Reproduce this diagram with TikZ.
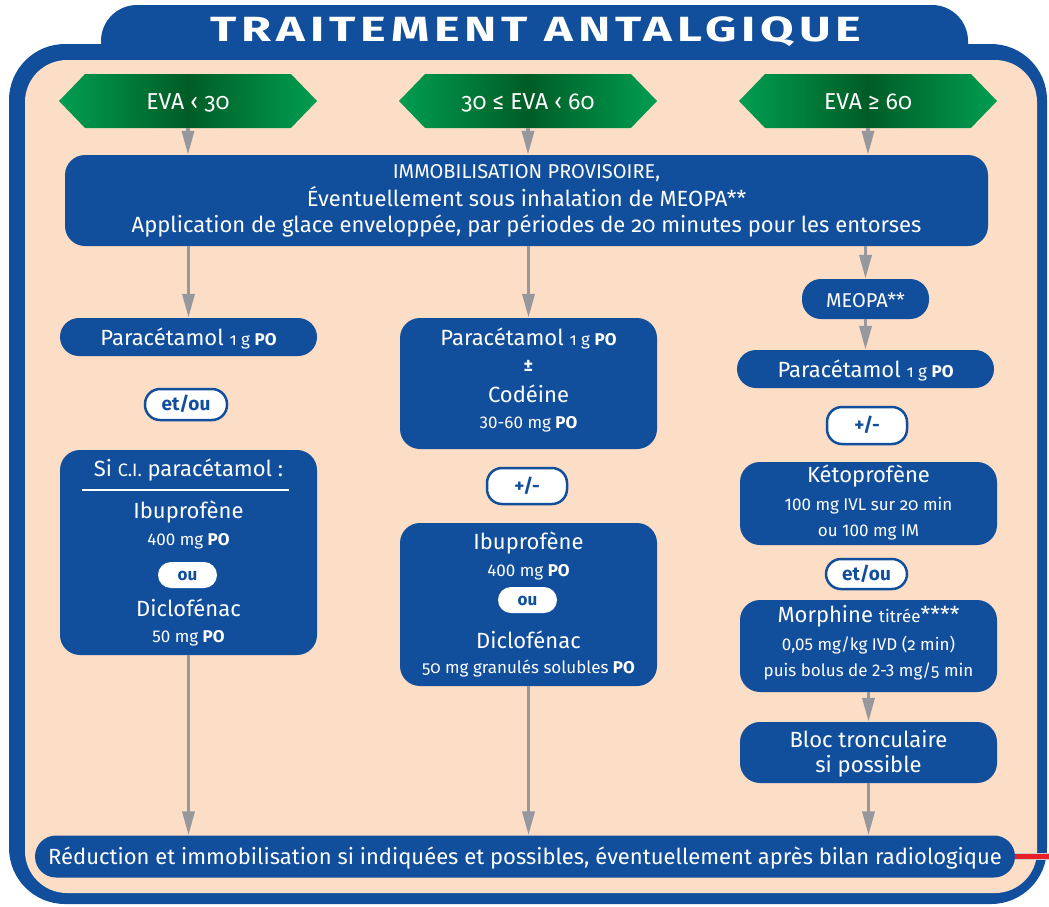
\documentclass[tikz,border=0pt]{standalone}
\usepackage{fontspec}
\usepackage{graphicx}
\setmainfont{Fira Sans}
\usetikzlibrary{shapes.symbols,shapes.misc,arrows.meta}
\definecolor{nblue}{RGB}{17,78,156}
\definecolor{peach}{RGB}{252,221,197}
\definecolor{agray}{RGB}{150,152,158}
\definecolor{glight}{RGB}{0,158,80}
\definecolor{gdark}{RGB}{0,92,38}
\definecolor{redline}{RGB}{232,30,40}
\newcommand{\os}{\addfontfeatures{Numbers=OldStyle}}
\newcommand{\fsz}[1]{\fontsize{#1}{#1}\selectfont}
\tikzset{
  hexa/.style={signal, signal to=west and east, signal pointer angle=92,
    minimum width=258pt, minimum height=54pt, inner sep=0pt,
    left color=glight, right color=glight, middle color=gdark,
    text=white, font=\fsz{23}, text height=21pt, text depth=5pt},
  box/.style={fill=nblue, rounded corners=20pt, inner sep=0pt},
  pill/.style={fill=nblue, rounded corners=19pt, inner sep=0pt, text=white,
    font=\fsz{22}, text height=21pt, text depth=5pt},
  wpill/.style={fill=white, draw=nblue, line width=2.5pt, rounded corners=15pt,
    inner sep=0pt, text=nblue, font=\fsz{19}\bfseries, text height=15pt, text depth=3pt},
  opill/.style={fill=white, rounded corners=13pt, inner sep=0pt, text=nblue,
    font=\fsz{17}\bfseries, text height=14pt, text depth=3pt},
  t/.style={text=white, anchor=base, inner sep=0pt, font=\fsz{22}},
  d/.style={text=white, anchor=base, inner sep=0pt, font=\fsz{17}},
  arr/.style={draw=agray, line width=3.5pt, -{Triangle[length=24pt,width=12pt]}},
}
\begin{document}
\begin{tikzpicture}[x=1pt,y=-1pt]
\useasboundingbox (0,0) rectangle (1049,906);
% frame
\fill[nblue, rounded corners=36pt] (101,5) rectangle (968,80);
\fill[nblue, rounded corners=56pt] (9,44) rectangle (1047,904);
\fill[peach, rounded corners=42pt] (25,60) rectangle (1037,893);
\node[text=white, font=\fsz{35}\bfseries, inner sep=0pt, anchor=base] (title) at (536,41)
  {\scalebox{1.39}[1]{\addfontfeatures{LetterSpace=10}TRAITEMENT ANTALGIQUE}};
% EVA
\node[hexa] (h1) at (188,101) {\os EVA ‹ 30};
\node[hexa] (h2) at (528,101) {\os 30 ≤ EVA ‹ 60};
\node[hexa] (h3) at (868,101) {\os EVA ≥ 60};
% top box
\node[box, minimum width=923pt, minimum height=91pt] (imm) at (526.5,200.5) {};
\node[t, font=\fsz{20}] (imm1) at (526.5,178) {IMMOBILISATION PROVISOIRE,};
\node[t] (imm2) at (526.5,206) {Éventuellement sous inhalation de MEOPA**};
\node[t] (imm3) at (526.5,232) {Application de glace enveloppée, par périodes de {\os 20} minutes pour les entorses};
% column 1
\node[pill, minimum width=257pt, minimum height=38pt] (p1) at (188.5,337) {Paracétamol {\fsz{17}\os 1 g \textbf{PO}}};
\node[wpill, minimum width=82pt, minimum height=31pt] (eo1) at (186,404.5) {et/ou};
\node[box, minimum width=257pt, minimum height=205pt] (ci) at (188.5,552.5) {};
\node[t] (ci1) at (188.5,476) {Si {\fsz{18}C.I.} paracétamol :};
\draw[white, line width=2pt] (82,490) -- (289,490);
\node[t] (ci2) at (188.5,518) {Ibuprofène};
\node[d] (ci3) at (188.5,545) {400 mg \textbf{PO}};
\node[opill, minimum width=59pt, minimum height=26pt] (ou1) at (187.5,575) {ou};
\node[t] (ci4) at (188.5,616) {Diclofénac};
\node[d] (ci5) at (188.5,642) {50 mg \textbf{PO}};
% column 2
\node[box, minimum width=257pt, minimum height=131pt] (b1) at (528.5,383.5) {};
\node[t] (b1a) at (528.5,345) {Paracétamol {\fsz{17}\os 1 g \textbf{PO}}};
\node[t, font=\fsz{18}\bfseries] (b1b) at (528.5,371) {±};
\node[t] (b1c) at (528.5,402) {Codéine};
\node[d] (b1d) at (528.5,428) {30-60 mg \textbf{PO}};
\node[wpill, minimum width=80pt, minimum height=36pt] (pm1) at (527,486) {+/-};
\node[box, minimum width=257pt, minimum height=163pt] (b2) at (528.5,604.5) {};
\node[t] (b2a) at (528.5,549) {Ibuprofène};
\node[d] (b2b) at (528.5,576) {400 mg \textbf{PO}};
\node[opill, minimum width=59pt, minimum height=26pt] (ou2) at (527.5,600) {ou};
\node[t] (b2c) at (528.5,648) {Diclofénac};
\node[d] (b2d) at (528.5,673) {{\os 50} mg granulés solubles \textbf{PO}};
% column 3
\node[pill, minimum width=127pt, minimum height=40pt, font=\fsz{20}, text height=20pt, text depth=4pt] (meopa) at (865.5,299) {MEOPA**};
\node[pill, minimum width=257pt, minimum height=38pt] (p3) at (865.5,369) {Paracétamol {\fsz{17}\os 1 g \textbf{PO}}};
\node[wpill, minimum width=80pt, minimum height=37pt] (pm2) at (867,425.5) {+/-};
\node[box, minimum width=257pt, minimum height=83pt] (keto) at (868.5,503.5) {};
\node[t] (k1) at (868.5,482) {Kétoprofène};
\node[d] (k2) at (868.5,510) {100 mg IVL sur {\os 20} min};
\node[d] (k3) at (868.5,536) {ou 100 mg IM};
\node[wpill, minimum width=81pt, minimum height=30pt] (eo2) at (866.5,574) {et/ou};
\node[box, minimum width=257pt, minimum height=92pt] (morph) at (868.5,646) {};
\node[t] (m1) at (868.5,622) {Morphine {\fsz{17}titrée}****};
\node[d] (m2) at (868.5,650) {0,05 mg/kg IVD ({\os 2} min)};
\node[d] (m3) at (868.5,676) {puis bolus de 2-3 mg/{\os 5} min};
\node[box, minimum width=257pt, minimum height=61pt] (bloc) at (868.5,752.5) {};
\node[t] (bl1) at (868.5,747) {Bloc tronculaire};
\node[t] (bl2) at (868.5,772) {si possible};
% bottom
\node[pill, minimum width=980pt, minimum height=42pt, rounded corners=21pt] (bot) at (525,856.5)
  {Réduction et immobilisation si indiquées et possibles, éventuellement après bilan radiologique};
\coordinate (redend) at (1049,856.5);
\draw[line width=7pt, black!20] (bot.east) -- (redend);
\draw[line width=5pt, redline] (bot.east) -- (redend);
% arrows
\draw[arr] (h1.south) -- (h1.south |- imm.north);
\draw[arr] (h2.south) -- (h2.south |- imm.north);
\draw[arr] (h3.south) -- (h3.south |- imm.north);
\draw[arr] (imm.south -| p1) -- (p1.north);
\draw[arr] (imm.south -| b1) -- (b1.north);
\draw[arr] (imm.south -| meopa) -- (meopa.north);
\draw[arr] (meopa.south) -- (p3.north);
\draw[arr] (ci.south) -- (ci.south |- bot.north);
\draw[arr] (b2.south) -- (b2.south |- bot.north);
\draw[arr] (morph.south) -- (bloc.north);
\draw[arr] (bloc.south) -- (bloc.south |- bot.north);
\end{tikzpicture}
\end{document}
